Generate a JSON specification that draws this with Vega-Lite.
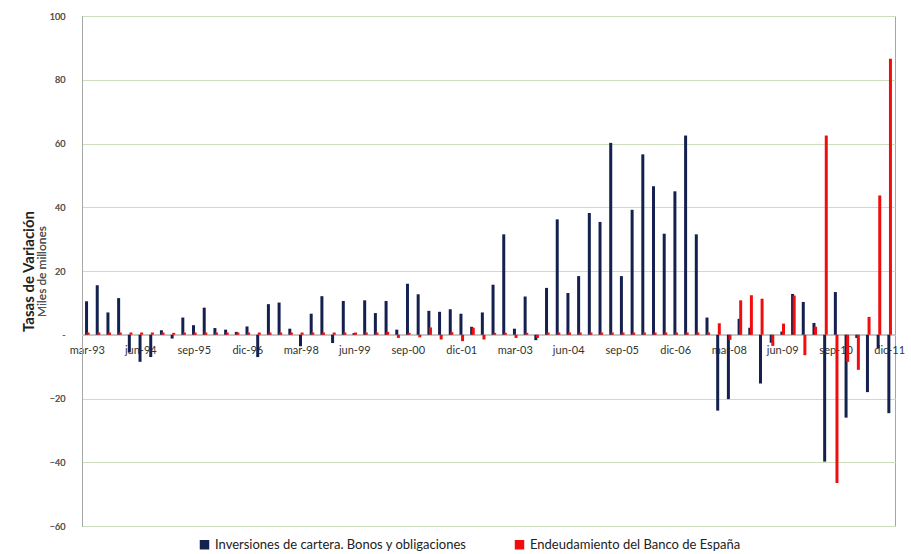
{
  "$schema": "https://vega.github.io/schema/vega-lite/v6.json",
  "width": 813,
  "height": 510,
  "autosize": {"type": "none"},
  "padding": {"left": 82, "top": 16, "right": 16, "bottom": 28},
  "background": "white",
  "config": {
    "font": "Lato",
    "view": {"stroke": "#a6a6a6", "strokeWidth": 1}
  },
  "data": {
    "values": [
      {"t":"mar-93","s":"inv","v":10.5},{"t":"mar-93","s":"bde","v":0.7},
      {"t":"jun-93","s":"inv","v":15.5},{"t":"jun-93","s":"bde","v":0.7},
      {"t":"sep-93","s":"inv","v":7},{"t":"sep-93","s":"bde","v":0.7},
      {"t":"dic-93","s":"inv","v":11.5},{"t":"dic-93","s":"bde","v":0.7},
      {"t":"mar-94","s":"inv","v":-5.5},{"t":"mar-94","s":"bde","v":0.7},
      {"t":"jun-94","s":"inv","v":-8.5},{"t":"jun-94","s":"bde","v":0.7},
      {"t":"sep-94","s":"inv","v":-7},{"t":"sep-94","s":"bde","v":0.7},
      {"t":"dic-94","s":"inv","v":1.4},{"t":"dic-94","s":"bde","v":0.7},
      {"t":"mar-95","s":"inv","v":-1.2},{"t":"mar-95","s":"bde","v":0.6},
      {"t":"jun-95","s":"inv","v":5.4},{"t":"jun-95","s":"bde","v":0.7},
      {"t":"sep-95","s":"inv","v":3},{"t":"sep-95","s":"bde","v":0.7},
      {"t":"dic-95","s":"inv","v":8.5},{"t":"dic-95","s":"bde","v":0.7},
      {"t":"mar-96","s":"inv","v":2.1},{"t":"mar-96","s":"bde","v":0.7},
      {"t":"jun-96","s":"inv","v":1.6},{"t":"jun-96","s":"bde","v":0.7},
      {"t":"sep-96","s":"inv","v":0.9},{"t":"sep-96","s":"bde","v":0.7},
      {"t":"dic-96","s":"inv","v":2.6},{"t":"dic-96","s":"bde","v":0.7},
      {"t":"mar-97","s":"inv","v":-7},{"t":"mar-97","s":"bde","v":0.7},
      {"t":"jun-97","s":"inv","v":9.6},{"t":"jun-97","s":"bde","v":0.7},
      {"t":"sep-97","s":"inv","v":10.1},{"t":"sep-97","s":"bde","v":0.7},
      {"t":"dic-97","s":"inv","v":1.9},{"t":"dic-97","s":"bde","v":0.7},
      {"t":"mar-98","s":"inv","v":-3.6},{"t":"mar-98","s":"bde","v":0.7},
      {"t":"jun-98","s":"inv","v":6.6},{"t":"jun-98","s":"bde","v":0.7},
      {"t":"sep-98","s":"inv","v":12.1},{"t":"sep-98","s":"bde","v":0.7},
      {"t":"dic-98","s":"inv","v":-2.6},{"t":"dic-98","s":"bde","v":0.7},
      {"t":"mar-99","s":"inv","v":10.6},{"t":"mar-99","s":"bde","v":0.7},
      {"t":"jun-99","s":"inv","v":0.5},{"t":"jun-99","s":"bde","v":0.7},
      {"t":"sep-99","s":"inv","v":10.8},{"t":"sep-99","s":"bde","v":0.7},
      {"t":"dic-99","s":"inv","v":6.8},{"t":"dic-99","s":"bde","v":0.7},
      {"t":"mar-00","s":"inv","v":10.6},{"t":"mar-00","s":"bde","v":0.9},
      {"t":"jun-00","s":"inv","v":1.6},{"t":"jun-00","s":"bde","v":-1},
      {"t":"sep-00","s":"inv","v":16},{"t":"sep-00","s":"bde","v":0.6},
      {"t":"dic-00","s":"inv","v":12.7},{"t":"dic-00","s":"bde","v":-0.8},
      {"t":"mar-01","s":"inv","v":7.5},{"t":"mar-01","s":"bde","v":2.3},
      {"t":"jun-01","s":"inv","v":7.2},{"t":"jun-01","s":"bde","v":-1.5},
      {"t":"sep-01","s":"inv","v":8},{"t":"sep-01","s":"bde","v":0.8},
      {"t":"dic-01","s":"inv","v":6.6},{"t":"dic-01","s":"bde","v":-2},
      {"t":"mar-02","s":"inv","v":2.5},{"t":"mar-02","s":"bde","v":2.2},
      {"t":"jun-02","s":"inv","v":7},{"t":"jun-02","s":"bde","v":-1.5},
      {"t":"sep-02","s":"inv","v":15.7},{"t":"sep-02","s":"bde","v":0.6},
      {"t":"dic-02","s":"inv","v":31.5},{"t":"dic-02","s":"bde","v":0.6},
      {"t":"mar-03","s":"inv","v":1.9},{"t":"mar-03","s":"bde","v":-1},
      {"t":"jun-03","s":"inv","v":12},{"t":"jun-03","s":"bde","v":0.6},
      {"t":"sep-03","s":"inv","v":-1.7},{"t":"sep-03","s":"bde","v":-1},
      {"t":"dic-03","s":"inv","v":14.7},{"t":"dic-03","s":"bde","v":0.7},
      {"t":"mar-04","s":"inv","v":36.2},{"t":"mar-04","s":"bde","v":0.7},
      {"t":"jun-04","s":"inv","v":13.1},{"t":"jun-04","s":"bde","v":0.7},
      {"t":"sep-04","s":"inv","v":18.4},{"t":"sep-04","s":"bde","v":0.7},
      {"t":"dic-04","s":"inv","v":38.2},{"t":"dic-04","s":"bde","v":0.7},
      {"t":"mar-05","s":"inv","v":35.4},{"t":"mar-05","s":"bde","v":0.7},
      {"t":"jun-05","s":"inv","v":60.2},{"t":"jun-05","s":"bde","v":0.7},
      {"t":"sep-05","s":"inv","v":18.4},{"t":"sep-05","s":"bde","v":0.7},
      {"t":"dic-05","s":"inv","v":39.2},{"t":"dic-05","s":"bde","v":0.7},
      {"t":"mar-06","s":"inv","v":56.6},{"t":"mar-06","s":"bde","v":0.7},
      {"t":"jun-06","s":"inv","v":46.6},{"t":"jun-06","s":"bde","v":0.7},
      {"t":"sep-06","s":"inv","v":31.7},{"t":"sep-06","s":"bde","v":0.7},
      {"t":"dic-06","s":"inv","v":45},{"t":"dic-06","s":"bde","v":0.7},
      {"t":"mar-07","s":"inv","v":62.5},{"t":"mar-07","s":"bde","v":0.7},
      {"t":"jun-07","s":"inv","v":31.5},{"t":"jun-07","s":"bde","v":0.7},
      {"t":"sep-07","s":"inv","v":5.4},{"t":"sep-07","s":"bde","v":0.7},
      {"t":"dic-07","s":"inv","v":-23.8},{"t":"dic-07","s":"bde","v":3.6},
      {"t":"mar-08","s":"inv","v":-20.2},{"t":"mar-08","s":"bde","v":-1.6},
      {"t":"jun-08","s":"inv","v":5},{"t":"jun-08","s":"bde","v":10.8},
      {"t":"sep-08","s":"inv","v":2.2},{"t":"sep-08","s":"bde","v":12.4},
      {"t":"dic-08","s":"inv","v":-15.3},{"t":"dic-08","s":"bde","v":11.3},
      {"t":"mar-09","s":"inv","v":-2.5},{"t":"mar-09","s":"bde","v":-3.5},
      {"t":"jun-09","s":"inv","v":1},{"t":"jun-09","s":"bde","v":3.5},
      {"t":"sep-09","s":"inv","v":12.8},{"t":"sep-09","s":"bde","v":12.3},
      {"t":"dic-09","s":"inv","v":10.3},{"t":"dic-09","s":"bde","v":-6.4},
      {"t":"mar-10","s":"inv","v":3.7},{"t":"mar-10","s":"bde","v":2.5},
      {"t":"jun-10","s":"inv","v":-39.8},{"t":"jun-10","s":"bde","v":62.5},
      {"t":"sep-10","s":"inv","v":13.4},{"t":"sep-10","s":"bde","v":-46.5},
      {"t":"dic-10","s":"inv","v":-26},{"t":"dic-10","s":"bde","v":-8.5},
      {"t":"mar-11","s":"inv","v":-1},{"t":"mar-11","s":"bde","v":-11},
      {"t":"jun-11","s":"inv","v":-18},{"t":"jun-11","s":"bde","v":5.6},
      {"t":"sep-11","s":"inv","v":-4.2},{"t":"sep-11","s":"bde","v":43.7},
      {"t":"dic-11","s":"inv","v":-24.6},{"t":"dic-11","s":"bde","v":86.6}
    ]
  },
  "encoding": {
    "x": {
      "field": "t",
      "type": "ordinal",
      "sort": null,
      "scale": {"paddingInner": 0, "paddingOuter": 0},
      "axis": {
        "orient": "bottom",
        "offset": -191,
        "title": null,
        "values": ["mar-93","jun-94","sep-95","dic-96","mar-98","jun-99","sep-00","dic-01","mar-03","jun-04","sep-05","dic-06","mar-08","jun-09","sep-10","dic-11"],
        "labelAngle": 0,
        "labelFontSize": 11,
        "labelColor": "#333333",
        "labelPadding": 9,
        "ticks": false,
        "domain": false,
        "grid": false
      }
    },
    "y": {
      "field": "v",
      "type": "quantitative",
      "scale": {"domain": [-60, 100], "nice": false, "zero": false},
      "axis": {
        "orient": "left",
        "values": [-60, -40, -20, 0, 20, 40, 60, 80, 100],
        "labelExpr": "datum.value == 0 ? '-' : datum.label",
        "labelFontSize": 9,
        "labelColor": "#555555",
        "labelPadding": 17,
        "ticks": false,
        "domain": true,
        "domainColor": "#a6a6a6",
        "grid": true,
        "gridColor": "#cddcbf",
        "gridWidth": 1,
        "title": "Miles de millones",
        "titleFontSize": 12,
        "titleFontWeight": "normal",
        "titleColor": "#555555",
        "titlePadding": 1
      }
    },
    "color": {
      "field": "s",
      "type": "nominal",
      "scale": {"domain": ["inv", "bde"], "range": ["#14214f", "#f20d0d"]},
      "legend": {
        "orient": "none",
        "legendX": 116,
        "legendY": 522,
        "direction": "horizontal",
        "title": null,
        "padding": 0,
        "symbolType": "square",
        "symbolSize": 90,
        "symbolStrokeWidth": 0,
        "labelFontSize": 13,
        "labelColor": "#222222",
        "labelLimit": 0,
        "columnPadding": 46,
        "labelExpr": "datum.value == 'inv' ? 'Inversiones de cartera. Bonos y obligaciones' : 'Endeudamiento del Banco de España'"
      }
    }
  },
  "layer": [
    {
      "mark": {"type": "rule", "color": "#c8c8c8", "strokeWidth": 1},
      "encoding": {
        "x": null,
        "color": null,
        "y": {
          "datum": 0,
          "type": "quantitative",
          "scale": {"domain": [-60, 100], "nice": false, "zero": false},
          "axis": {
            "orient": "left",
            "title": "Tasas de Variación",
            "titleFontSize": 15,
            "titleFontWeight": "bold",
            "titleColor": "#222222",
            "labels": false,
            "ticks": false,
            "domain": false,
            "grid": false,
            "offset": 46,
            "titlePadding": 0
          }
        }
      }
    },
    {
      "transform": [{"filter": "datum.s == 'inv'"}],
      "mark": {"type": "bar", "width": 3, "xOffset": -0.8}
    },
    {
      "transform": [{"filter": "datum.s == 'bde'"}],
      "mark": {"type": "bar", "width": 3, "xOffset": 0.8}
    }
  ],
  "resolve": {"axis": {"y": "independent"}}
}
